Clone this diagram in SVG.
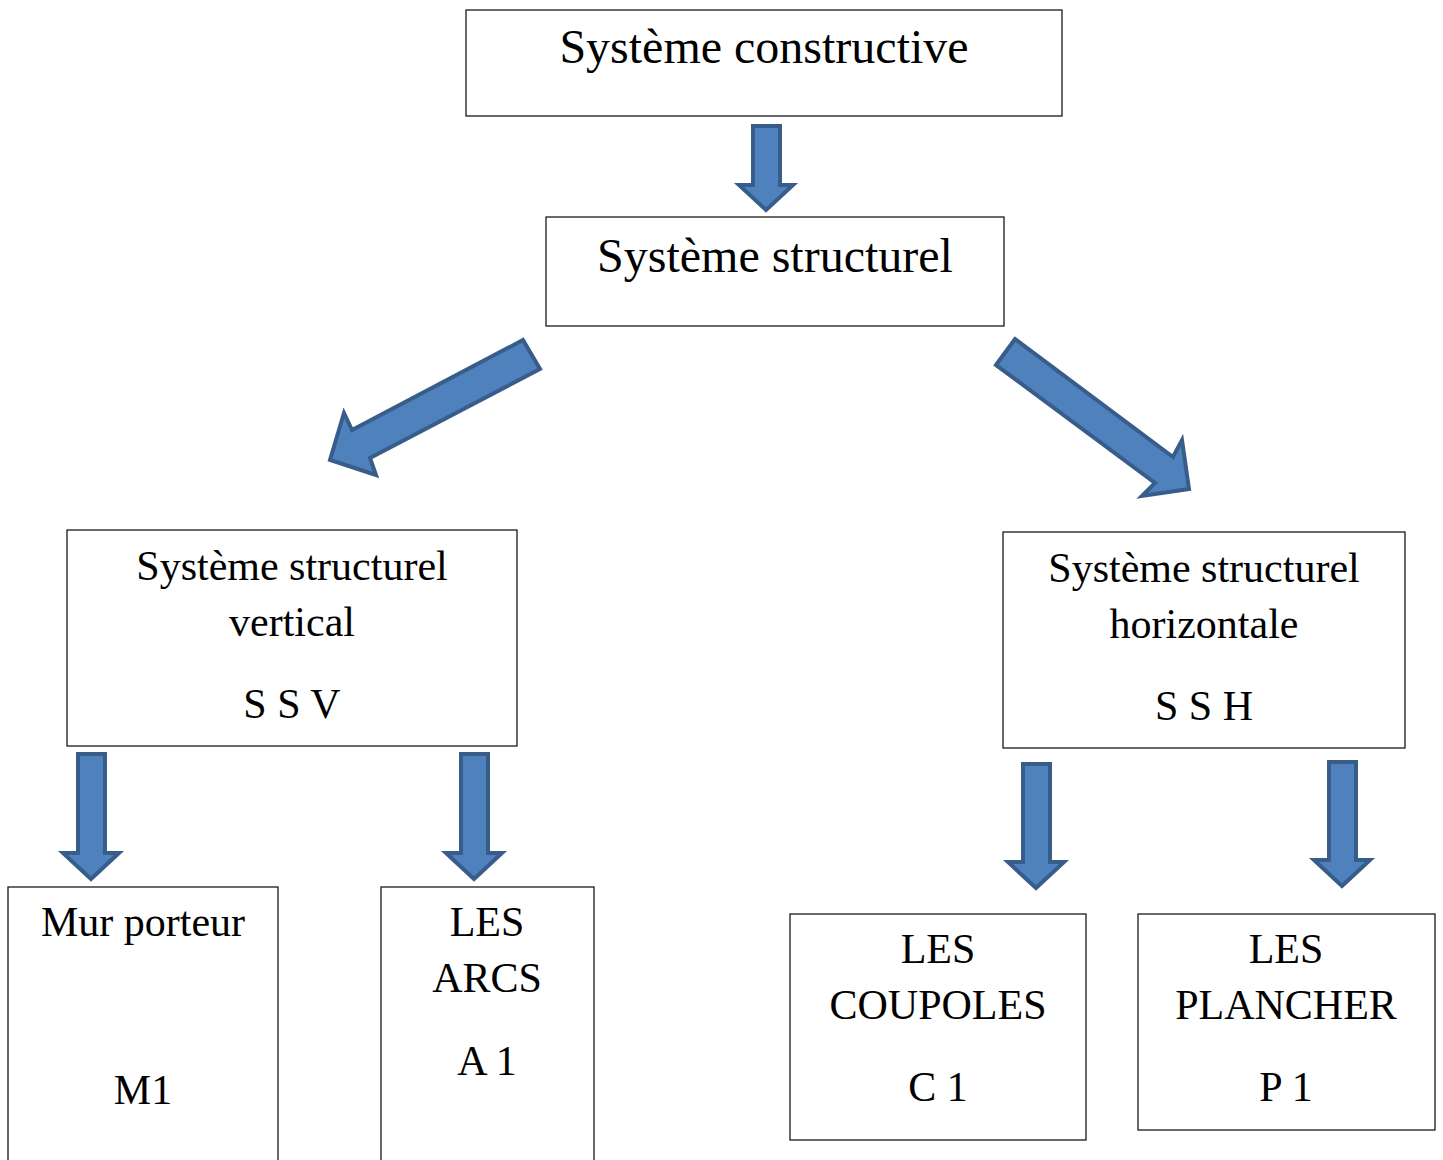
<svg xmlns="http://www.w3.org/2000/svg" width="1443" height="1160" viewBox="0 0 1443 1160">
<style>
.box{fill:#fff;stroke:#1a1a1a;stroke-width:1.3}
.t{font-family:"Liberation Serif","Times New Roman",serif;fill:#000;text-anchor:middle}
.t48{font-size:48px}
.t42{font-size:42px}
.arr{fill:#4F81BD;stroke:#385D8A;stroke-width:4;stroke-linejoin:miter}
</style>
<rect width="1443" height="1160" fill="#fff"/>
<g id="connectors">
<polygon class="arr" points="753,126 780,126 780,185 793,185 766,210 739,185 753,185"/>
<polygon class="arr" points="523,340 540,369 370,458 376,475 330,460 344,413 352,430"/>
<polygon class="arr" points="996,365 1015,339 1173,457 1182,440 1189,489 1142,496 1155,483"/>
<polygon class="arr" points="78,754 105,754 105,853 119,853 91,879 63,853 78,853"/>
<polygon class="arr" points="461,754 488,754 488,853 502,853 474,879 446,853 461,853"/>
<polygon class="arr" points="1023,764 1050,764 1050,862 1064,862 1036,888 1008,862 1023,862"/>
<polygon class="arr" points="1329,762 1356,762 1356,860 1370,860 1342,886 1314,860 1329,860"/>
</g>
<g id="n-constructive">
<rect class="box" x="466" y="10" width="596" height="106"/>
<text class="t t48" x="764" y="63">Système constructive</text>
</g>
<g id="n-structurel">
<rect class="box" x="546" y="217" width="458" height="109"/>
<text class="t t48" x="775" y="272">Système structurel</text>
</g>
<g id="n-ssv">
<rect class="box" x="67" y="530" width="450" height="216"/>
<text class="t t42" x="292" y="580">Système structurel</text>
<text class="t t42" x="292" y="636">vertical</text>
<text class="t t42" x="292" y="718">S S V</text>
</g>
<g id="n-ssh">
<rect class="box" x="1003" y="532" width="402" height="216"/>
<text class="t t42" x="1204" y="582">Système structurel</text>
<text class="t t42" x="1204" y="638">horizontale</text>
<text class="t t42" x="1204" y="720">S S H</text>
</g>
<g id="n-mur">
<rect class="box" x="8" y="887" width="270" height="290"/>
<text class="t t42" x="143" y="936">Mur porteur</text>
<text class="t t42" x="143" y="1104">M1</text>
</g>
<g id="n-arcs">
<rect class="box" x="381" y="887" width="213" height="290"/>
<text class="t t42" x="487" y="936">LES</text>
<text class="t t42" x="487" y="992">ARCS</text>
<text class="t t42" x="487" y="1075">A 1</text>
</g>
<g id="n-coupoles">
<rect class="box" x="790" y="914" width="296" height="226"/>
<text class="t t42" x="938" y="963">LES</text>
<text class="t t42" x="938" y="1019">COUPOLES</text>
<text class="t t42" x="938" y="1101">C 1</text>
</g>
<g id="n-plancher">
<rect class="box" x="1138" y="914" width="297" height="216"/>
<text class="t t42" x="1286" y="963">LES</text>
<text class="t t42" x="1286" y="1019">PLANCHER</text>
<text class="t t42" x="1286" y="1101">P 1</text>
</g>
</svg>
